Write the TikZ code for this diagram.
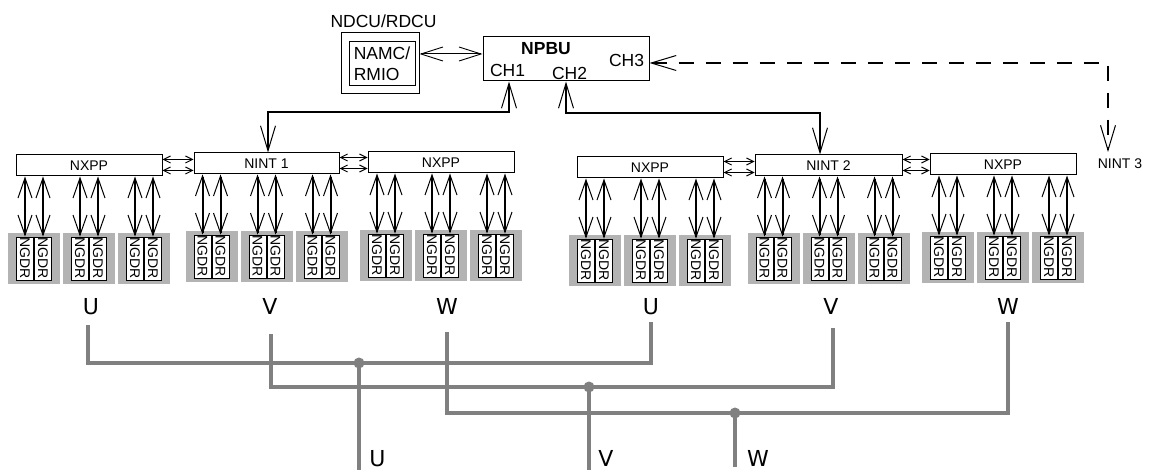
\documentclass[tikz,border=0pt]{standalone}
\usepackage{fontspec}
\usepackage{graphicx}
\setmainfont{Liberation Sans}
\newfontfamily\dvs{DejaVu Sans}
\usetikzlibrary{arrows.meta}
\definecolor{busgray}{RGB}{128,128,128}
\definecolor{grpgray}{RGB}{179,179,179}
\begin{document}
\begin{tikzpicture}[x=1pt,y=-1pt,
  box/.style={draw, line width=1pt, fill=white, inner sep=0pt},
  lab/.style={font=\fontsize{17.5}{21}\selectfont, inner sep=0pt},
  sm/.style={font=\fontsize{14}{16}\selectfont},
  ngdrbox/.style={draw, line width=0.9pt, fill=white, inner sep=0pt, minimum width=17, minimum height=43, font=\fontsize{14}{15}\selectfont},
  phase/.style={font=\dvs\fontsize{22}{24}\selectfont, inner sep=0pt, anchor=base},
  bigtip/.tip={Straight Barb[length=25pt,width=15pt,line width=1pt]},
  midtip/.tip={Straight Barb[length=20pt,width=14pt,line width=1pt]},
  toptip/.tip={Straight Barb[length=22pt,width=14pt,line width=0.9pt]},
  smalltip/.tip={Straight Barb[length=7pt,width=7pt,line width=1pt]},
  conn/.style={line width=2.5pt, bigtip-bigtip},
  ngarr/.style={line width=2pt, midtip-midtip},
  topconn/.style={line width=1pt, toptip-toptip},
  dashconn/.style={line width=2.2pt, dash pattern=on 15pt off 12pt, bigtip-bigtip},
  linkA/.style={line width=1.8pt, smalltip-smalltip},
  linkB/.style={line width=1pt, smalltip-smalltip},
  bus/.style={line width=4.5pt, busgray, line join=miter},
  jdot/.style={fill=busgray}
]
\useasboundingbox (0,0) rectangle (1151,470);

% ---- top units ----
\node[lab, anchor=base] (ndcutxt) at (383.5,28) {NDCU/RDCU};
\node[box, minimum width=78, minimum height=61] (ndcu) at (380,63.5) {};
\node[box, lab, minimum width=66, minimum height=44, align=left] (namc) at (382,64) {NAMC/\\RMIO};
\node[box, minimum width=166, minimum height=44] (npbu) at (566,59) {};
\node[lab, font=\bfseries\fontsize{17.5}{21}\selectfont] (npbut) at (546,48.5) {NPBU};
\node[lab] (ch1) at (507.5,70) {CH1};
\node[lab] (ch2) at (569.5,73.5) {CH2};
\node[lab] (ch3) at (626.5,60) {CH3};
\node[sm, inner sep=0pt] (nint3) at (1120,164) {NINT 3};

\coordinate (y54) at (0,54);
\coordinate (y63) at (0,63);
\coordinate (y112) at (0,112);
\coordinate (y113) at (0,113);
\coordinate (n3) at (1108,152);
\coordinate (c1) at (509,0);
\coordinate (c2) at (566,0);

% ---- drive boxes ----
\node[box, sm, minimum width=146, minimum height=21] (nxA) at (89,165.5) {NXPP};
\node[box, sm, minimum width=145, minimum height=21] (ni1) at (266.5,163.5) {NINT 1};
\node[box, sm, minimum width=146, minimum height=21] (nxB) at (441,162.5) {NXPP};
\node[box, sm, minimum width=146, minimum height=21] (nxC) at (650,167.5) {NXPP};
\node[box, sm, minimum width=147, minimum height=21] (ni2) at (828.5,165.5) {NINT 2};
\node[box, sm, minimum width=146, minimum height=21] (nxD) at (1003,164.5) {NXPP};
\coordinate (ni1in) at ([xshift=1.5pt]ni1.north);
\coordinate (ni2in) at ([xshift=-8.5pt]ni2.north);

% ---- top connectors ----
\draw[topconn] (ndcu.east |- y54) -- (npbu.west |- y54);
\draw[dashconn] (npbu.east |- y63) -| (n3);
\draw[conn] (c1 |- npbu.south) -- (c1 |- y112) -| (ni1in);
\draw[conn] (c2 |- npbu.south) -- (c2 |- y113) -| (ni2in);

% ---- links between boxes ----
\foreach \a/\b in {nxA/ni1, ni1/nxB, nxC/ni2, ni2/nxD} {
  \path (\a.east) ++(0,-6) coordinate (\a-up);
  \path (\a.east) ++(0,5) coordinate (\a-lo);
  \draw[linkA] (\a-up) -- (\a-up -| \b.west);
  \draw[linkB] (\a-lo) -- (\a-lo -| \b.west);
}

% ---- NGDR groups ----
\foreach \p/\cx/\by in {nxA/89/176, ni1/266.5/174, nxB/441/173, nxC/650/178, ni2/828.5/176, nxD/1003/175} {
  \foreach \k [count=\i] in {-55,0,55} {
    \pgfmathsetmacro\gx{\cx+\k}
    \fill[grpgray] (\gx-26,\by+57) rectangle (\gx+26,\by+108);
    \node[ngdrbox] (\p-\i-a) at (\gx-9,\by+82.5) {\rotatebox{-90}{NGDR}};
    \node[ngdrbox] (\p-\i-b) at (\gx+9,\by+82.5) {\rotatebox{-90}{NGDR}};
    \draw[ngarr] (\p-\i-a.north |- \p.south) -- (\p-\i-a.north);
    \draw[ngarr] (\p-\i-b.north |- \p.south) -- (\p-\i-b.north);
  }
}

% ---- phase labels ----
\node[phase] (uL) at (91,315) {U};
\node[phase] (vL) at (270,315) {V};
\node[phase] (wL) at (447,315) {W};
\node[phase] (uR) at (651,315) {U};
\node[phase] (vR) at (831,315) {V};
\node[phase] (wR) at (1008,315) {W};
\node[phase] (uO) at (377.5,466) {U};
\node[phase] (vO) at (606,466) {V};
\node[phase] (wO) at (758,466) {W};

% ---- bus bars ----
\draw[bus] (88,325) -- (88,363) -- (651,363) -- (651,322);
\draw[bus] (271,334) -- (271,387) -- (833,387) -- (833,328);
\draw[bus] (447,332) -- (447,413) -- (1008,413) -- (1008,322);
\draw[bus] (359,363) -- (359,472);
\draw[bus] (589,387) -- (589,472);
\draw[bus] (735,413) -- (735,467);
\fill[jdot] (359,363) circle (5.5);
\fill[jdot] (589,387) circle (5.5);
\fill[jdot] (735,413) circle (5.5);
\end{tikzpicture}
\end{document}
